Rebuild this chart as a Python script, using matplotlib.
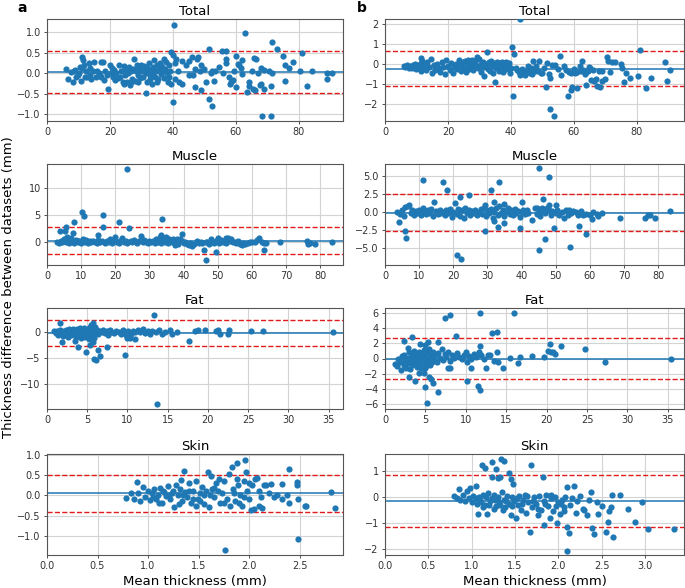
"""
Bland-Altman plots of tissue thickness: dataset comparison (a) and (b).
"""
import matplotlib
matplotlib.use('Agg')
import matplotlib.pyplot as plt
from matplotlib.ticker import MultipleLocator
import numpy as np

plt.rcParams.update({
    'font.family': 'DejaVu Sans',
    'font.size': 7,
    'xtick.labelsize': 7,
    'ytick.labelsize': 7,
    'axes.titlesize': 9.5,
    'axes.labelsize': 9.5,
})

# ============================================================
# Data: (mean thickness, difference) pairs
# ============================================================
total_a = np.array([
    (6.0, 0.10), (6.8, -0.13), (7.5, 0.02), (8.2, -0.20), (8.5, 0.05), (9.0, 0.07), (9.3, -0.10),
    (10.0, -0.05), (10.2, 0.00), (10.5, 0.15), (10.8, -0.18), (11.0, 0.13), (11.2, 0.40), (11.4, 0.32),
    (11.8, 0.20), (12.0, -0.10), (12.3, 0.05), (12.8, -0.08), (13.3, 0.25), (13.5, -0.05), (13.8, 0.12),
    (14.0, -0.15), (14.5, 0.05), (15.0, 0.27), (15.5, -0.10), (16.0, 0.05), (16.5, 0.00), (16.8, -0.05),
    (17.0, 0.27), (17.3, -0.10), (17.8, 0.27), (18.0, -0.17), (18.5, 0.05), (19.0, -0.05), (19.3, -0.37),
    (20.0, 0.20), (20.3, 0.00), (20.8, 0.13), (21.0, -0.08), (21.3, 0.07), (21.5, -0.17), (22.0, 0.00),
    (22.5, -0.12), (23.0, 0.20), (23.3, -0.10), (23.6, 0.05), (24.0, -0.20), (24.3, 0.18), (24.5, -0.25),
    (24.8, -0.05), (25.0, 0.10), (25.3, -0.22), (25.6, 0.00), (26.0, 0.15), (26.3, -0.28), (26.6, 0.05),
    (26.8, -0.20), (27.0, -0.15), (27.3, 0.10), (27.6, 0.35), (28.0, -0.18), (28.3, 0.05), (28.6, 0.20),
    (28.8, -0.22), (29.0, -0.05), (29.3, 0.15), (29.6, -0.12), (29.8, 0.08), (30.0, 0.20), (30.3, 0.05),
    (30.6, -0.08), (30.8, 0.18), (31.0, 0.15), (31.3, 0.00), (31.5, -0.48), (31.6, -0.20), (31.8, 0.12),
    (32.0, 0.10), (32.3, 0.25), (32.6, -0.05), (32.8, -0.15), (33.0, 0.05), (33.3, -0.25), (33.6, 0.15),
    (33.8, -0.05), (34.0, 0.33), (34.3, -0.10), (34.6, 0.05), (34.8, -0.22), (35.0, 0.20), (35.3, -0.15),
    (35.6, 0.10), (35.8, 0.22), (36.0, 0.25), (36.3, -0.02), (36.6, 0.15), (36.8, 0.05), (37.0, -0.12),
    (37.3, 0.35), (37.6, 0.10), (37.8, 0.28), (38.0, 0.00), (38.3, -0.20), (38.6, 0.20), (38.8, -0.10),
    (39.0, 0.05), (39.3, 0.52), (39.5, -0.25), (40.0, 0.45), (40.0, -0.70), (40.3, 1.18), (40.5, 0.25),
    (40.8, -0.15), (41.0, 0.35), (41.5, 0.05), (42.0, -0.20), (43.0, -0.25), (43.0, 0.30), (44.0, 0.20),
    (45.0, 0.30), (45.0, -0.05), (46.0, 0.40), (46.5, -0.05), (47.0, 0.10), (47.0, -0.33), (47.5, 0.35),
    (48.0, 0.40), (48.5, 0.05), (49.0, 0.20), (49.0, -0.41), (50.0, 0.10), (50.5, -0.22), (51.5, 0.60),
    (51.5, -0.63), (52.0, 0.00), (52.5, -0.79), (52.5, 0.05), (53.0, -0.18), (53.5, 0.05), (54.5, 0.15),
    (55.5, 0.53), (56.0, 0.00), (56.8, 0.35), (56.9, 0.25), (57.0, 0.54), (57.8, -0.10), (58.0, -0.27),
    (58.5, -0.22), (59.0, -0.17), (59.5, 0.05), (60.0, 0.42), (60.0, -0.33), (60.5, 0.22), (61.0, 0.20),
    (61.5, 0.12), (62.0, 0.33), (62.0, -0.02), (63.0, 0.98), (63.5, -0.46), (64.0, -0.30), (64.0, -0.22),
    (65.0, 0.05), (65.5, -0.37), (65.7, 0.36), (66.0, -0.40), (66.3, 0.34), (67.0, 0.00), (67.5, -0.28),
    (68.0, 0.13), (68.0, -0.25), (68.3, -1.03), (69.0, 0.08), (69.0, -0.37), (70.5, 0.05), (71.0, -0.32),
    (71.0, -1.04), (71.5, 0.00), (71.5, 0.76), (73.0, 0.58), (75.0, 0.43), (75.5, 0.20), (75.5, -0.18),
    (77.0, 0.13), (78.0, 0.27), (80.3, 0.05), (81.0, 0.50), (82.5, -0.31), (84.0, 0.05), (89.0, 0.00),
    (89.0, -0.14), (90.5, 0.00),
])

total_b = np.array([
    (6.0, -0.10), (6.5, -0.15), (7.0, -0.05), (7.5, -0.20), (8.0, -0.10), (8.5, -0.18), (9.0, -0.05),
    (9.5, 0.00), (10.0, -0.25), (10.5, -0.10), (11.0, 0.00), (11.3, 0.30), (11.5, -0.35), (11.8, 0.15),
    (12.0, -0.20), (12.5, -0.05), (13.0, -0.30), (13.5, 0.10), (14.0, -0.15), (14.5, 0.25), (15.0, -0.45),
    (15.5, -0.05), (16.0, -0.30), (16.5, 0.00), (17.0, -0.20), (17.5, -0.40), (18.0, 0.10), (18.5, -0.15),
    (19.0, -0.50), (19.5, 0.20), (20.0, -0.10), (20.5, -0.30), (21.0, 0.05), (21.5, -0.45), (22.0, -0.15),
    (22.5, 0.00), (23.0, -0.25), (23.5, 0.20), (24.0, -0.05), (24.3, -0.35), (24.6, 0.10), (25.0, -0.20),
    (25.3, 0.15), (25.6, -0.40), (26.0, 0.00), (26.3, 0.20), (26.6, -0.25), (27.0, 0.10), (27.3, -0.15),
    (27.6, 0.20), (28.0, -0.30), (28.3, 0.05), (28.6, 0.15), (28.8, -0.15), (29.0, -0.10), (29.3, 0.35),
    (29.6, -0.20), (30.0, 0.25), (30.3, -0.05), (30.6, -0.40), (30.8, 0.05), (31.0, 0.10), (31.3, -0.60),
    (31.6, -0.15), (32.0, 0.00), (32.5, 0.62), (32.8, -0.25), (33.0, 0.10), (33.3, -0.35), (33.6, 0.15),
    (33.8, -0.10), (34.0, -0.05), (34.3, -0.45), (34.6, 0.05), (35.0, -0.90), (35.3, -0.20), (35.6, 0.10),
    (36.0, -0.10), (36.3, -0.35), (36.6, 0.05), (36.8, -0.05), (37.0, -0.20), (37.3, 0.10), (37.6, -0.40),
    (38.0, -0.05), (38.3, 0.10), (38.6, -0.25), (38.8, 0.00), (39.0, -0.10), (39.3, 0.05), (39.6, -0.45),
    (40.0, -0.20), (40.5, 0.85), (40.6, -1.57), (41.0, 0.50), (41.5, -0.20), (42.0, -0.30), (42.5, -0.40),
    (42.8, 2.25), (43.0, -0.55), (43.5, -0.25), (44.0, -0.45), (44.5, -0.55), (45.0, -0.30), (45.5, -0.10),
    (46.0, -0.45), (46.5, -0.20), (46.8, -0.50), (47.0, 0.15), (47.5, -0.35), (48.0, -0.10), (48.5, -0.35),
    (49.0, 0.15), (49.5, -0.45), (50.0, -0.45), (50.5, -0.20), (51.0, -1.12), (51.5, 0.05), (52.0, -0.50),
    (52.3, -2.25), (52.5, -0.70), (53.0, -0.05), (53.7, -2.60), (54.0, -0.05), (55.0, -0.25), (55.5, 0.40),
    (56.0, -0.55), (57.0, -0.10), (57.5, -0.30), (58.0, -1.60), (58.5, -0.40), (59.0, -1.30), (59.0, -0.45),
    (59.5, -1.15), (60.0, -0.25), (60.5, -0.45), (61.0, -1.20), (61.0, -0.40), (62.0, -0.10), (62.3, -0.35),
    (62.5, 0.15), (63.0, -0.30), (63.5, -0.50), (63.8, -0.40), (64.0, -1.05), (64.5, -0.35), (64.8, -0.15),
    (65.0, -0.20), (65.5, -0.80), (66.0, -0.30), (66.5, -0.85), (67.0, -0.75), (67.5, -1.10), (68.0, -0.35),
    (68.3, -1.15), (69.0, -0.85), (69.0, -0.35), (70.0, -0.75), (70.5, 0.35), (71.0, 0.15), (71.5, -0.40),
    (72.0, 0.10), (73.0, 0.10), (75.0, 0.00), (75.3, -0.20), (76.0, -0.90), (76.5, -0.45), (78.0, -0.70),
    (80.5, -0.60), (81.0, 0.70), (83.0, -1.20), (84.5, -0.70), (89.0, 0.10), (89.5, -0.85), (90.5, -0.30),
])

muscle_a = np.array([
    (3.0, 0.0), (3.5, -0.3), (4.0, 0.2), (4.5, -0.1), (5.0, 0.4), (5.5, 0.0), (6.0, 0.9), (6.5, -0.2),
    (6.8, 0.5), (7.0, 0.6), (7.5, 0.1), (8.0, -0.3), (8.5, 0.3), (9.0, -0.1), (9.2, 0.1), (9.5, 0.2),
    (10.0, -0.2), (10.5, 0.5), (11.0, 0.0), (11.5, 0.3), (12.0, -0.3), (12.5, 0.1), (13.0, -0.1),
    (13.5, 0.2), (14.0, 0.0), (14.5, -0.2), (15.0, 0.3), (15.5, -0.1), (16.0, 0.1), (17.0, -0.2),
    (17.5, 0.2), (18.0, 0.0), (18.5, 0.4), (19.0, -0.2), (19.5, 0.1), (20.5, 0.0), (21.0, -0.3),
    (21.5, 0.2), (22.0, 0.6), (22.5, -0.1), (23.0, 0.2), (23.5, -0.2), (24.5, 0.1), (25.0, -0.1),
    (25.5, 0.3), (26.0, 0.0), (26.5, -0.2), (27.0, 0.2), (28.0, -0.1), (28.5, 0.3), (29.0, 0.0),
    (29.5, -0.3), (30.0, 0.2), (30.5, -0.1), (31.0, 0.1), (31.5, -0.2), (32.0, 0.4), (32.5, 0.0),
    (33.0, 0.8), (33.5, -0.2), (34.0, 0.3), (34.5, 0.0), (35.0, 0.9), (35.5, -0.3), (35.8, 0.4),
    (36.0, 0.2), (36.5, -0.1), (37.0, 0.4), (37.5, -0.6), (38.0, 0.0), (38.2, 0.5), (38.5, -0.4),
    (39.0, 0.5), (39.5, 0.1), (40.0, -0.2), (40.5, 0.0), (41.0, -0.4), (41.5, -0.7), (42.0, -0.3),
    (42.5, -0.8), (43.0, -0.5), (44.0, 0.1), (44.5, -0.2), (45.0, 0.0), (45.5, -0.3), (46.5, -0.1),
    (47.0, 0.0), (47.5, -0.4), (48.0, 0.5), (48.5, 0.0), (49.0, -0.2), (49.5, 0.2), (50.0, 0.6),
    (50.5, -0.3), (51.0, 0.3), (51.5, -0.1), (52.0, 0.0), (52.3, 0.6), (52.5, -0.3), (53.0, 0.6),
    (53.5, 0.2), (54.0, 0.4), (54.5, -0.1), (55.0, 0.0), (55.5, -0.2), (56.0, 0.1), (56.5, -0.4),
    (57.0, -0.6), (57.5, -0.3), (58.0, -0.5), (59.0, -0.2), (59.5, 0.0), (60.0, -0.1), (61.0, 0.0),
    (61.5, 0.3), (62.0, 0.7), (63.0, -0.1), (63.5, -0.3), (64.0, -0.2),
    (23.5, 13.7), (10.2, 5.5), (10.8, 4.8), (16.5, 5.0), (16.3, 2.8), (7.9, 3.7), (5.7, 2.8),
    (3.8, 2.0), (5.2, 2.0), (7.7, 1.7), (21.0, 3.6), (24.0, 2.5), (33.7, 4.2), (39.5, 1.5),
    (14.8, 1.2), (20.0, 0.9), (27.5, 1.1), (33.5, 1.2), (46.5, -3.4), (46.0, -1.5), (49.5, -1.9),
    (63.5, -1.6), (68.3, -0.1), (76.2, 0.1), (76.5, -0.4), (77.0, -0.2), (78.5, -0.4), (83.5, -0.1),
])

muscle_b = np.array([
    (3.5, 0.0), (4.5, -0.3), (5.0, 0.2), (5.5, -0.6), (6.0, 0.7), (6.7, 0.8), (7.0, 1.0), (7.5, -0.2),
    (8.0, 0.3), (8.5, -0.5), (9.0, 0.1), (9.5, -0.1), (10.0, 0.2), (10.5, -0.4), (11.0, 0.6), (11.5, 0.0),
    (12.0, -0.3), (12.5, 0.3), (13.0, -0.1), (13.5, 0.4), (14.0, -0.6), (15.0, 0.1), (15.5, -0.3),
    (16.0, 0.3), (16.5, -0.1), (17.0, 0.0), (17.5, -0.5), (18.0, 0.2), (18.5, -0.2), (19.0, 0.4),
    (19.5, -0.7), (20.0, 0.0), (21.0, -0.3), (21.5, 0.4), (22.0, -0.6), (22.5, 0.2), (23.0, -0.9),
    (23.5, 0.5), (24.0, -0.2), (24.5, 0.3), (25.0, -0.4), (25.5, 0.1), (26.0, -0.1), (26.5, 0.3),
    (27.0, -0.5), (27.5, 0.0), (28.0, 0.4), (28.5, -0.3), (29.0, 0.6), (29.3, 0.9), (29.5, -0.6),
    (30.0, 0.2), (30.5, -0.2), (31.0, 0.4), (31.5, -0.8), (32.0, 0.0), (32.5, 0.5), (33.0, -0.4),
    (33.5, 0.8), (34.0, -0.1), (34.5, 0.3), (35.0, -0.6), (35.5, 0.0), (36.0, 0.5), (36.5, -0.3),
    (37.0, 0.2), (37.5, -0.5), (38.0, 0.4), (38.5, -0.2), (39.0, 0.1), (39.5, -0.7), (40.0, 0.0),
    (40.5, 0.3), (41.0, -0.3), (41.5, 0.2), (42.0, -0.1), (44.0, 0.5), (44.5, -0.3), (44.5, 0.5),
    (45.0, 0.3), (45.5, -0.6), (46.0, 0.1), (46.0, 0.5), (47.0, -0.2), (47.5, 0.6), (48.0, 0.3),
    (48.5, -0.4), (49.0, 0.1), (50.0, -0.1), (50.5, 0.3), (51.0, -0.5), (52.0, 0.0), (52.5, -0.8),
    (53.0, 0.3), (53.5, -0.4), (54.0, 0.2), (54.5, -0.2), (55.0, 0.1), (56.0, 0.0), (56.5, -0.5),
    (57.5, 0.1), (58.0, -0.4), (59.0, -0.3), (60.0, -0.5), (61.0, 0.0), (62.0, -0.3), (62.5, -0.6),
    (63.5, -0.1),
    (11.0, 4.4), (17.0, 4.2), (18.2, 3.0), (14.5, 1.4), (20.5, 1.2), (22.0, 2.1), (24.5, 2.3),
    (31.0, 3.0), (33.5, 4.2), (32.0, 1.4), (35.0, 1.1), (40.0, 1.4), (45.2, 6.05), (48.0, 4.9),
    (46.2, 1.8), (48.0, 1.0), (50.0, 0.9), (21.0, -6.0), (22.2, -6.6), (29.3, -2.6), (33.2, -2.1),
    (35.0, -1.5), (31.8, -1.3), (39.5, -2.2), (43.0, -1.2), (45.0, -5.3), (47.0, -3.8), (49.5, -2.3),
    (54.2, -4.9), (56.8, -1.9), (58.8, -3.1), (60.5, -1.0), (68.8, -0.9), (76.2, -0.8), (77.0, -0.5),
    (77.5, -0.5), (79.0, -0.8), (83.5, 0.1), (4.0, -1.4), (6.0, -2.6), (6.2, -3.6),
])

fat_a = np.array([
    (0.9, 0.2), (1.1, -0.2), (1.3, 0.1), (1.4, -0.5), (1.6, 0.3), (1.7, -0.1), (1.9, 0.2), (2.0, -0.7),
    (2.1, 0.0), (2.3, 0.4), (2.4, -0.3), (2.5, 0.1), (2.6, -0.9), (2.7, 0.5), (2.8, -0.2), (2.9, 0.2),
    (3.0, -0.6), (3.1, 0.0), (3.2, 0.6), (3.3, -0.4), (3.4, 0.3), (3.5, -0.1), (3.6, -1.0), (3.7, 0.5),
    (3.8, -0.3), (3.9, 0.1), (4.0, -0.7), (4.1, 0.7), (4.2, -0.2), (4.2, -1.1), (4.3, 0.3), (4.4, -0.5),
    (4.5, 0.0), (4.6, 0.8), (4.7, -0.9), (4.8, 0.2), (4.9, -0.3), (5.0, 0.5), (5.1, -0.1), (5.2, -0.6),
    (5.2, -1.3), (5.3, 0.3), (5.4, 0.9), (5.5, -0.4), (5.5, 1.3), (5.6, 0.1), (5.7, -0.8), (5.8, 0.4),
    (5.9, -1.2), (6.0, 0.0), (6.0, 1.0), (6.2, 0.3), (6.4, -0.3), (6.6, 0.2), (6.8, -0.1), (7.0, 0.4),
    (7.2, -0.2), (7.4, 0.1), (7.6, -0.5), (7.8, 0.3), (8.0, 0.0), (8.3, -0.2), (8.6, 0.2), (8.9, 0.0),
    (9.2, -0.3), (9.5, 0.3), (9.8, -0.5), (10.1, 0.1), (10.4, -0.3), (10.7, 0.2), (11.0, -0.1),
    (11.3, 0.3), (11.6, 0.0), (11.9, 0.5), (12.2, -0.2), (12.5, 0.1), (12.8, -0.4), (13.1, 0.2),
    (13.5, 0.0), (13.9, 0.3),
    (13.3, 3.3), (1.6, 1.8), (5.7, 1.8), (1.9, -2.0), (3.9, -2.8), (3.5, -1.7), (4.8, -3.8),
    (5.3, -2.5), (5.7, -2.0), (5.8, -5.2), (6.1, -5.4), (6.3, -3.5), (6.6, -4.7), (7.4, -2.8),
    (9.7, -4.5), (13.7, -13.8), (10.0, -1.2), (10.3, -1.2), (11.0, -1.3), (17.7, -1.7), (15.3, 0.4),
    (15.5, -0.3), (16.2, -0.1), (18.4, 0.1), (18.8, 0.4), (19.7, 0.4), (21.0, 0.1), (21.2, 0.3),
    (21.5, -0.4), (22.5, -0.3), (22.6, 0.3), (25.4, 0.1), (26.8, 0.1), (35.5, 0.0), (14.3, -0.3),
    (14.7, 0.0),
])

fat_b = np.array([
    (1.2, -0.7), (1.5, -1.0), (1.6, 0.0), (1.8, -0.4), (2.0, -1.5), (2.1, 0.3), (2.3, -0.8), (2.4, 0.5),
    (2.5, -0.2), (2.6, -1.2), (2.8, 0.1), (2.8, 1.4), (2.9, -0.6), (3.0, 0.8), (3.1, -1.4), (3.2, -0.3),
    (3.3, 0.4), (3.4, -0.9), (3.5, 0.0), (3.6, 1.0), (3.7, -0.5), (3.8, 0.3), (3.9, -1.1), (4.0, 0.6),
    (4.1, -0.2), (4.2, 0.9), (4.3, -0.7), (4.4, 0.2), (4.5, -1.3), (4.6, 0.5), (4.7, -0.1), (4.8, 1.1),
    (4.9, -0.6), (5.0, 0.3), (5.0, -1.2), (5.1, -1.0), (5.2, 0.7), (5.3, -0.3), (5.4, 1.2), (5.5, 0.0),
    (5.6, -0.8), (5.7, 0.5), (5.8, -0.4), (5.9, 0.9), (6.0, -0.1), (6.2, 0.4), (6.4, -0.5), (6.6, 0.7),
    (6.8, 0.1), (7.0, 1.2), (7.2, -0.2), (7.4, 0.6), (7.6, 0.2), (7.8, 0.9), (7.8, -1.2), (8.0, -0.3),
    (8.1, -1.2), (8.3, 0.5), (8.6, 0.1), (8.9, 0.7), (9.2, 0.2), (9.5, -0.1), (9.8, 0.4), (10.0, 0.9),
    (10.1, -0.4), (10.4, 0.3), (10.7, 0.0), (10.7, -1.2), (11.0, 0.6), (11.3, 0.2), (11.6, 0.9),
    (11.9, 0.4), (12.2, -0.1), (12.5, -1.2), (12.8, 0.5), (13.0, 0.4), (13.5, -0.3), (13.8, 0.8),
    (14.0, -0.5), (14.6, -1.2), (15.5, 0.1), (16.5, -0.6), (16.7, 0.2), (18.2, 0.3), (19.7, 0.2),
    (20.2, 1.0), (20.4, 1.9), (20.5, 0.9), (20.8, 0.8), (21.0, 0.6), (21.8, 1.7), (24.8, 1.2),
    (27.2, -0.5), (35.4, 0.0),
    (7.4, 5.3), (8.0, 5.7), (11.7, 6.0), (16.0, 6.0), (13.3, 3.3), (13.8, 3.5), (8.8, 2.9),
    (3.4, 2.8), (2.3, 2.3), (5.3, 2.2), (6.5, 2.2), (4.3, 1.9), (5.0, 1.8), (11.7, 1.7),
    (10.1, -2.9), (11.5, -3.6), (11.7, -4.2), (6.5, -4.4), (5.2, -5.9), (5.0, -3.8), (5.4, -2.5),
    (5.7, -2.7), (6.0, -3.2), (3.7, -2.9), (3.0, -2.5), (4.2, -1.9), (4.8, -1.9),
])

skin_a = np.array([
    (0.78, -0.07), (0.83, 0.05), (0.86, -0.10), (0.89, 0.34), (0.90, 0.05), (0.92, -0.15), (0.95, 0.20),
    (0.97, -0.05), (1.00, 0.10), (1.02, -0.12), (1.04, 0.05), (1.05, -0.05), (1.06, 0.15), (1.08, -0.08),
    (1.10, 0.00), (1.11, -0.20), (1.12, 0.18), (1.14, -0.18), (1.15, 0.12), (1.16, 0.08), (1.18, -0.02),
    (1.20, 0.22), (1.21, 0.02), (1.22, -0.10), (1.24, 0.05), (1.25, 0.10), (1.26, -0.28), (1.28, 0.25),
    (1.30, 0.00), (1.31, -0.22), (1.32, 0.15), (1.33, 0.38), (1.34, -0.15), (1.35, 0.00), (1.36, 0.61),
    (1.37, 0.08), (1.39, -0.05), (1.41, 0.30), (1.41, 0.10), (1.43, -0.20), (1.45, 0.12), (1.45, -0.08),
    (1.47, 0.35), (1.47, -0.25), (1.49, -0.10), (1.51, 0.05), (1.51, -0.15), (1.53, 0.20), (1.55, -0.22),
    (1.55, 0.00), (1.57, 0.10), (1.59, 0.57), (1.60, -0.28), (1.61, 0.00), (1.62, 0.48), (1.63, 0.15),
    (1.65, -0.05), (1.65, 0.18), (1.67, 0.30), (1.69, 0.10), (1.70, 0.40), (1.71, -0.20), (1.73, 0.05),
    (1.75, 0.35), (1.75, -0.18), (1.76, -1.35), (1.78, -0.10), (1.80, 0.52), (1.81, -0.25), (1.83, 0.70),
    (1.84, 0.15), (1.85, 0.05), (1.86, -0.15), (1.88, 0.79), (1.88, 0.40), (1.89, 0.25), (1.90, -0.20),
    (1.91, 0.00), (1.93, -0.25), (1.95, 0.35), (1.95, -0.05), (1.96, 0.88), (1.97, 0.58), (1.98, 0.10),
    (2.00, -0.10), (2.00, 0.30), (2.02, -0.36), (2.03, 0.25), (2.05, -0.33), (2.06, 0.40), (2.08, 0.42),
    (2.10, 0.10), (2.10, -0.25), (2.12, -0.05), (2.13, -0.30), (2.15, 0.26), (2.17, 0.26), (2.20, 0.05),
    (2.22, 0.28), (2.25, -0.05), (2.28, 0.00), (2.33, 0.28), (2.33, -0.10), (2.38, 0.00), (2.40, 0.66),
    (2.40, -0.18), (2.47, 0.33), (2.47, 0.25), (2.48, -0.10), (2.48, -1.08), (2.55, -0.27),
    (2.56, -0.25), (2.81, 0.08), (2.85, -0.30),
])

skin_b = np.array([
    (0.80, 0.05), (0.83, -0.05), (0.85, 0.30), (0.87, -0.10), (0.90, 0.10), (0.92, -0.15), (0.95, 0.25),
    (0.97, -0.05), (0.98, 0.35), (1.00, -0.20), (1.02, 0.05), (1.05, 0.45), (1.05, -0.05), (1.06, -0.25),
    (1.07, -0.65), (1.08, 0.00), (1.10, -0.10), (1.11, -0.18), (1.12, 1.25), (1.13, 0.10), (1.13, -0.40),
    (1.15, 1.15), (1.15, -0.30), (1.17, 0.00), (1.18, -0.65), (1.19, 0.15), (1.20, -0.30), (1.21, -0.15),
    (1.23, 1.35), (1.24, 0.80), (1.24, -0.05), (1.26, 0.10), (1.26, -0.45), (1.27, -0.10), (1.28, 1.10),
    (1.28, -0.35), (1.30, 0.75), (1.30, 0.00), (1.32, -0.20), (1.33, 0.80), (1.33, -0.30), (1.34, 1.50),
    (1.35, 0.20), (1.36, -0.50), (1.37, 1.40), (1.37, -0.10), (1.39, -0.40), (1.40, -0.15), (1.41, 0.05),
    (1.43, 0.95), (1.43, -0.25), (1.45, 0.70), (1.45, -0.70), (1.46, -0.35), (1.47, 0.00), (1.48, 0.50),
    (1.49, -0.15), (1.51, -0.80), (1.52, -0.05), (1.53, -0.30), (1.55, 0.05), (1.57, -0.50),
    (1.58, -0.25), (1.59, -0.10), (1.61, 0.10), (1.63, -0.60), (1.64, 0.05), (1.65, -0.20), (1.67, -1.35),
    (1.69, 1.25), (1.70, -0.40), (1.71, -0.15), (1.72, 0.00), (1.74, -0.25), (1.76, -0.70), (1.77, -0.45),
    (1.78, 0.05), (1.80, -0.50), (1.82, 0.80), (1.83, -0.15), (1.84, -1.10), (1.85, -0.25), (1.86, 0.10),
    (1.88, -0.35), (1.90, -0.80), (1.91, 0.10), (1.92, -0.05), (1.94, -0.55), (1.96, 0.00), (1.97, -0.35),
    (1.98, -1.00), (2.00, -0.20), (2.02, -0.65), (2.03, -0.25), (2.04, -0.10), (2.06, -0.40),
    (2.07, -0.55), (2.08, 0.00), (2.10, 0.40), (2.10, -1.15), (2.10, -2.08), (2.12, -1.38), (2.14, -0.30),
    (2.16, -0.05), (2.18, 0.45), (2.20, -0.60), (2.22, -0.15), (2.25, 0.05), (2.28, -0.45), (2.30, -0.50),
    (2.33, -0.70), (2.35, -0.10), (2.38, 0.20), (2.39, -1.20), (2.41, -1.45), (2.45, -0.20),
    (2.46, -0.65), (2.50, -0.35), (2.55, -1.35), (2.57, -0.95), (2.58, -0.55), (2.61, -0.40),
    (2.62, 0.07), (2.63, -1.55), (2.71, 0.08), (2.80, -0.45), (2.89, -0.95), (2.96, -0.20),
    (3.04, -1.22), (3.33, -1.22),
])

# mean difference and limits of agreement (lower, mean, upper)
loa_total_a = [-0.49, 0.03, 0.55]
loa_total_b = [-1.10, -0.22, 0.65]
loa_muscle_a = [-2.3, 0.2, 2.7]
loa_muscle_b = [-2.64, -0.1, 2.45]
loa_fat_a = [-2.75, -0.2, 2.35]
loa_fat_b = [-2.72, 0.0, 2.72]
loa_skin_a = [-0.41, 0.05, 0.51]
loa_skin_b = [-1.15, -0.15, 0.86]

tissues = ["Total", "Muscle", "Fat", "Skin"]

# ============================================================
# Layout (pixel boxes of the original figure)
# ============================================================
W, H = 685, 588
rows_px = [(19, 121), (164, 265), (308, 409), (454, 555)]
cols_px = [(47, 343), (385, 684)]

# (points, limits, xlim, ylim, x tick step, y tick step)
panels = [
    [(total_a, loa_total_a, (0, 94), (-1.16, 1.32), 20, 0.5),
     (total_b, loa_total_b, (0, 95), (-2.83, 2.27), 20, 1)],
    [(muscle_a, loa_muscle_a, (0, 86.7), (-4.4, 14.6), 10, 5),
     (muscle_b, loa_muscle_b, (0, 87.6), (-7.4, 6.67), 10, 2.5)],
    [(fat_a, loa_fat_a, (0, 36.8), (-14.8, 4.6), 5, 5),
     (fat_b, loa_fat_b, (0, 37), (-6.65, 6.65), 5, 2)],
    [(skin_a, loa_skin_a, (0, 2.93), (-1.47, 1.02), 0.5, 0.5),
     (skin_b, loa_skin_b, (0, 3.45), (-2.25, 1.68), 0.5, 1)],
]

fig = plt.figure(figsize=(W / 100, H / 100), dpi=100)

for r, (top, bot) in enumerate(rows_px):
    for c, (left, right) in enumerate(cols_px):
        pts, loa, xl, yl, xstep, ystep = panels[r][c]
        ax = fig.add_axes([left / W, 1 - bot / H, (right - left) / W, (bot - top) / H])
        ax.grid(True, color='#d3d3d3', linewidth=0.8, zorder=0)
        ax.set_axisbelow(True)
        ax.scatter(pts[:, 0], pts[:, 1], s=20, color='#1f77b4', linewidths=0, zorder=3)
        ax.axhline(loa[1], color='#1f77b4', linewidth=1.1, zorder=2)
        ax.axhline(loa[0], color='#e31a1c', linestyle='--', linewidth=1.0, zorder=2)
        ax.axhline(loa[2], color='#e31a1c', linestyle='--', linewidth=1.0, zorder=2)
        ax.set_xlim(*xl)
        ax.set_ylim(*yl)
        ax.xaxis.set_major_locator(MultipleLocator(xstep))
        ax.yaxis.set_major_locator(MultipleLocator(ystep))
        ax.set_title(tissues[r], pad=3)
        ax.tick_params(length=2.5, width=0.6, pad=2, colors='#333333')
        for sp in ax.spines.values():
            sp.set_color('#555555')
            sp.set_linewidth(0.8)
        if r == 3:
            ax.set_xlabel('Mean thickness (mm)', labelpad=3)

fig.text(22 / W, 1 - 8 / H, 'a', fontsize=10, fontweight='bold', ha='center', va='center')
fig.text(362 / W, 1 - 8 / H, 'b', fontsize=10, fontweight='bold', ha='center', va='center')
fig.text(9 / W, 1 - 287 / H, 'Thickness difference between datasets (mm)', fontsize=9.5,
         rotation=90, ha='center', va='center')

fig.savefig('out.png', dpi=100)
